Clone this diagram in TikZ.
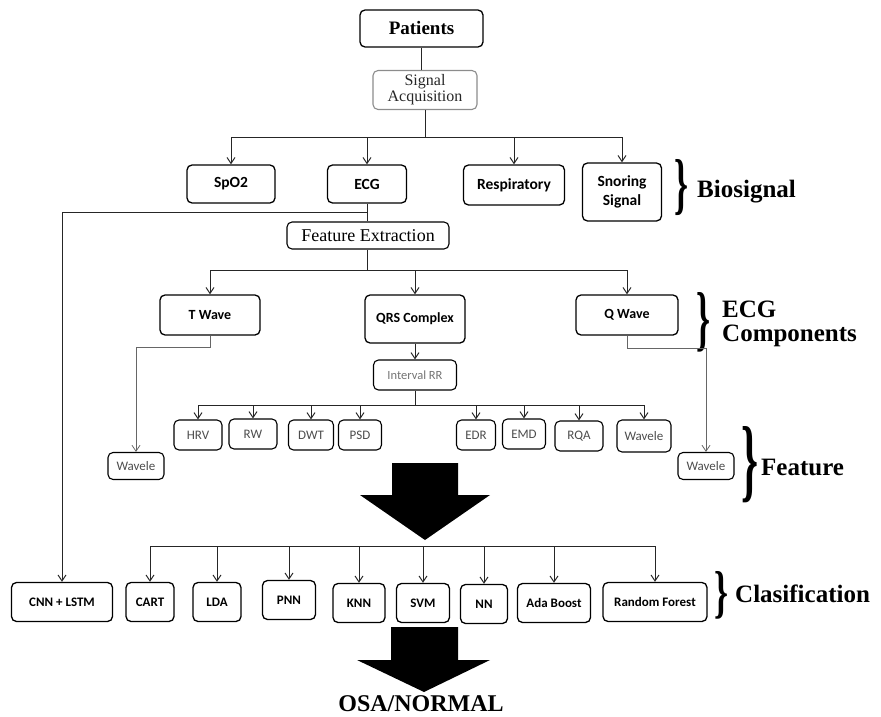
\documentclass[tikz,border=0pt]{standalone}
\usepackage{fontspec}
\usepackage{graphicx}
\setmainfont{Liberation Serif}
\newfontfamily\carl{Carlito}
\usetikzlibrary{arrows.meta}
\begin{document}
\begin{tikzpicture}[x=1pt,y=-1pt,
  box/.style={draw, rounded corners=5pt, line width=1.3pt, align=center, inner sep=1pt},
  bigbox/.style={box, font=\carl\bfseries\fontsize{15.5}{17}\selectfont, minimum height=38pt},
  midbox/.style={box, font=\carl\bfseries\fontsize{14}{16}\selectfont, minimum height=40pt},
  featbox/.style={box, line width=1.1pt, font=\carl\fontsize{13}{15}\selectfont, text=black!70, minimum height=30pt},
  clsbox/.style={box, font=\carl\bfseries\fontsize{13}{15}\selectfont, minimum height=39pt},
  ln/.style={line width=1pt, draw=black!85},
  arr/.style={ln, -{Straight Barb[length=6pt,width=8pt]}},
  lab/.style={font=\bfseries\fontsize{25}{27}\selectfont, anchor=west, inner sep=0pt},
  bigarrow/.style={fill=black, draw=none}
]
\useasboundingbox (0,0) rectangle (881,717);
% top
\node[box, font=\bfseries\fontsize{19}{21}\selectfont, minimum width=123pt, minimum height=37pt] (pat) at (421.5,28.5) {Patients};
\node[box, draw=black!45, line width=1.1pt, font=\fontsize{16}{16}\selectfont, text=black!85, minimum width=104pt, minimum height=39pt] (sig) at (425,90) {Signal\\Acquisition};
% biosignals
\node[bigbox, minimum width=88pt] (spo2) at (231,184) {SpO2};
\node[bigbox, minimum width=79pt] (ecg) at (367,184) {ECG};
\node[bigbox, minimum width=101pt, minimum height=40pt] (resp) at (514,185) {Respiratory};
\node[bigbox, minimum width=79pt, minimum height=58pt] (snor) at (622,192) {Snoring\\[2pt]Signal};
% feature extraction
\node[box, line width=1.1pt, font=\fontsize{18}{19}\selectfont, minimum width=162pt, minimum height=27pt] (fe) at (368,235.5) {Feature Extraction};
% ECG components
\node[midbox, minimum width=100pt] (tw) at (210,315) {T Wave};
\node[midbox, minimum width=100pt, minimum height=48pt] (qrs) at (415,319) {QRS Complex};
\node[midbox, minimum width=102pt] (qw) at (627,315) {Q Wave};
\node[box, line width=1.1pt, font=\carl\fontsize{12.5}{14}\selectfont, text=black!55, minimum width=83pt, minimum height=30pt] (irr) at (415,375) {Interval RR};
% features
\node[featbox, minimum width=48pt] (hrv) at (198,435) {HRV};
\node[featbox, minimum width=48pt] (rw) at (253,434) {RW};
\node[featbox, minimum width=45pt] (dwt) at (311,435) {DWT};
\node[featbox, minimum width=43pt] (psd) at (360,435) {PSD};
\node[featbox, minimum width=39pt] (edr) at (476,435) {EDR};
\node[featbox, minimum width=43pt] (emd) at (524,434) {EMD};
\node[featbox, minimum width=48pt] (rqa) at (579,436) {RQA};
\node[featbox, minimum width=54pt, minimum height=32pt] (wv) at (644,436) {Wavele};
\node[featbox, minimum width=56pt, minimum height=27pt] (wl) at (136,466) {Wavele};
\node[featbox, minimum width=56pt, minimum height=27pt] (wr) at (706,466) {Wavele};
% classifiers
\node[clsbox, minimum width=101pt] (cnn) at (62,602) {CNN + LSTM};
\node[clsbox, minimum width=48pt] (cart) at (150,602) {CART};
\node[clsbox, minimum width=48pt] (lda) at (217,602) {LDA};
\node[clsbox, minimum width=53pt] (pnn) at (289,600) {PNN};
\node[clsbox, minimum width=52pt] (knn) at (359,603) {KNN};
\node[clsbox, minimum width=53pt] (svm) at (423,603) {SVM};
\node[clsbox, minimum width=47pt] (nn) at (484,604) {NN};
\node[clsbox, minimum width=73pt] (ada) at (554,603) {Ada Boost};
\node[clsbox, minimum width=104pt] (rf) at (655,602) {Random Forest};
% output
\node[font=\bfseries\fontsize{24}{26}\selectfont, inner sep=0pt] (out) at (421,704) {OSA/NORMAL};
% side labels
\node[inner sep=0pt, anchor=west] (b1) at (674,188) {\resizebox{14pt}{47pt}{\bfseries\}}};
\node[lab] (bio) at (697,192) {Biosignal};
\node[inner sep=0pt, anchor=west] (b2) at (696,322) {\resizebox{14pt}{50pt}{\bfseries\}}};
\node[lab] (ecgc) at (722,309) {ECG};
\node[lab] (comp) at (722,336) {Components};
\node[inner sep=0pt, anchor=west] (b3) at (741,465) {\resizebox{17pt}{64pt}{\bfseries\}}};
\node[lab] (feat) at (761,467) {Feature};
\node[inner sep=0pt, anchor=west] (b4) at (714,595) {\resizebox{14pt}{40pt}{\bfseries\}}};
\node[lab] (cls) at (735,594) {Clasification};
% junctions
\coordinate (j1) at (425,137);
\coordinate (j2) at (367,212);
\coordinate (j3) at (367,270);
\coordinate (j4) at (415,405);
\coordinate (j5) at (0,546);
% connectors
\draw[ln] (pat) -- (pat.south |- sig.north);
\draw[ln] (sig.south) -- (j1);
\draw[ln] (spo2.north |- j1) -- (snor.north |- j1);
\foreach \n in {spo2,ecg,resp,snor} \draw[arr] (\n.north |- j1) -- (\n.north);
\draw[ln] (ecg.south) -- (ecg.south |- fe.north);
\draw[ln] (j2) -- (cnn.north |- j2);
\draw[arr] (cnn.north |- j2) -- (cnn.north);
\draw[ln] (fe.south -| j3) -- (j3);
\draw[ln] (tw.north |- j3) -- (qw.north |- j3);
\foreach \n in {tw,qrs,qw} \draw[arr] (\n.north |- j3) -- (\n.north);
\draw[arr] (qrs.south) -- (irr.north);
\draw[ln] (irr.south) -- (j4);
\draw[ln] (hrv.north |- j4) -- (wv.north |- j4);
\foreach \n in {hrv,rw,dwt,psd,edr,emd,rqa,wv} \draw[arr] (\n.north |- j4) -- (\n.north);
\draw[arr, draw=black!60, line width=0.8pt] (tw.south) -- ++(0,12) -| (wl.north);
\draw[arr, draw=black!60, line width=0.8pt] (qw.south) -- ++(0,13) -| (wr.north);
\draw[ln] (cart.north |- j5) -- (rf.north |- j5);
\foreach \n in {cart,lda,pnn,knn,svm,nn,ada,rf} \draw[arr] (\n.north |- j5) -- (\n.north);
% big arrows
\fill[bigarrow] (392,463) -- (458,463) -- (458,495) -- (490,495) -- (425,540) -- (360,495) -- (392,495) -- cycle;
\fill[bigarrow] (391,627) -- (458,627) -- (458,660) -- (490,660) -- (424,692) -- (357,660) -- (391,660) -- cycle;
\end{tikzpicture}
\end{document}
